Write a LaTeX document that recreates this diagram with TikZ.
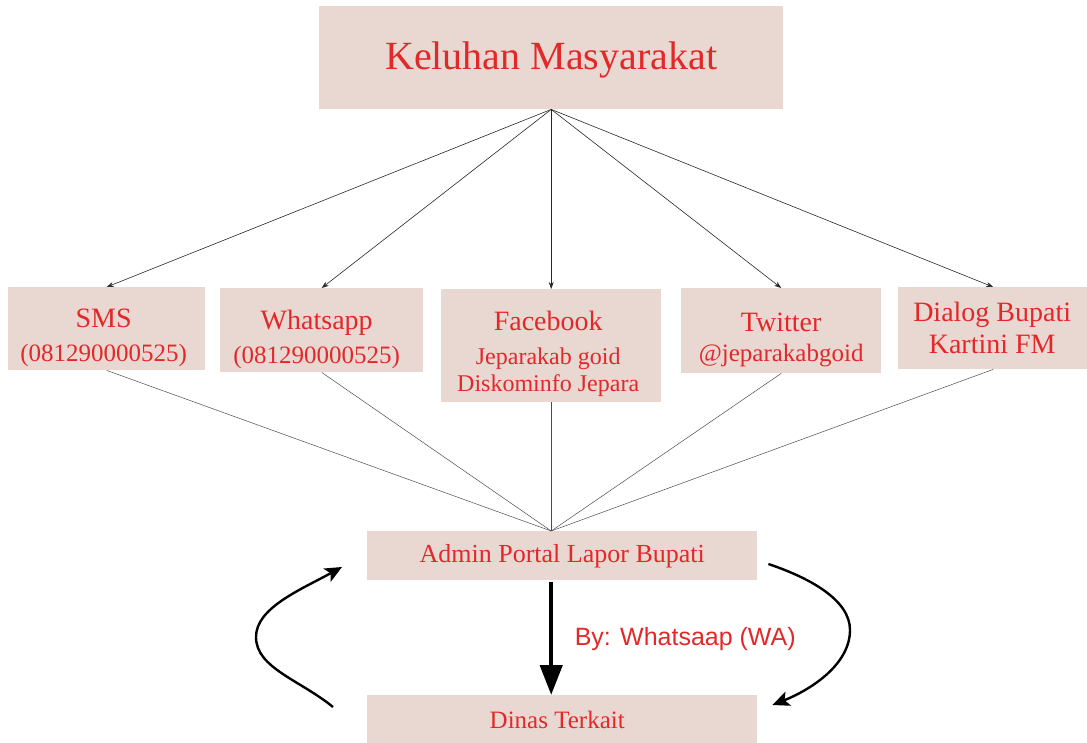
\documentclass[tikz,border=0pt]{standalone}
\usepackage{fontspec}
\setmainfont{Liberation Serif}
\newfontfamily\labelsans{Liberation Sans}
\usetikzlibrary{arrows.meta,calc}
\definecolor{boxfill}{RGB}{233,215,210}
\definecolor{boxtext}{RGB}{226,40,40}
\begin{document}
\begin{tikzpicture}[x=1pt,y=-1pt,
  box/.style={fill=boxfill,draw=none,inner sep=0pt,anchor=north west},
  txt/.style={text=boxtext,align=center,inner sep=0pt},
  feedline/.style={draw=black!85,line width=0.6pt,-{Stealth[length=7pt,width=5pt]}},
  joinline/.style={draw=black!70,line width=0.5pt},
  bigarrow/.style={draw=black,line width=4.5pt,-{Triangle[length=30pt,width=22pt]}},
  looparrow/.style={draw=black,line width=2.4pt,-{Stealth[length=17pt,width=15pt,inset=4pt]}}]
\useasboundingbox (0,0) rectangle (1087,742);
% boxes
\node[box,minimum width=464,minimum height=103] (kel) at (319,6) {};
\node[box,minimum width=197,minimum height=83] (sms) at (8,287) {};
\node[box,minimum width=203,minimum height=84] (wa) at (220,288) {};
\node[box,minimum width=220,minimum height=113] (fb) at (441,289) {};
\node[box,minimum width=200,minimum height=85] (tw) at (681,288) {};
\node[box,minimum width=190,minimum height=82] (dia) at (898,287) {};
\node[box,minimum width=390,minimum height=49] (adm) at (367,531) {};
\node[box,minimum width=390,minimum height=50] (din) at (367,695) {};
% texts
\node[txt,font=\fontsize{40}{48}\selectfont] (kelT) at ([shift={(0,2)}]kel.center) {Keluhan Masyarakat};
\node[txt,font=\fontsize{28}{34}\selectfont] (smsT) at ([shift={(-3,9)}]sms.center) {SMS\\{\fontsize{25}{34}\selectfont(081290000525)}};
\node[txt,font=\fontsize{28}{34}\selectfont] (waT) at ([shift={(-5,9)}]wa.center) {Whatsapp\\{\fontsize{25}{34}\selectfont(081290000525)}};
\node[txt,font=\fontsize{28}{34}\selectfont] (fbT) at ([shift={(-3,8)}]fb.center) {Facebook\\{\fontsize{24}{27}\selectfont Jeparakab goid}\\[-7pt]{\fontsize{24}{27}\selectfont Diskominfo Jepara}};
\node[txt,font=\fontsize{28}{30}\selectfont] (twT) at ([shift={(0,9)}]tw.center) {Twitter\\{\fontsize{25}{30}\selectfont @jeparakabgoid}};
\node[txt,font=\fontsize{28}{32}\selectfont] (diaT) at ([shift={(-1,0)}]dia.center) {Dialog Bupati\\Kartini FM};
\node[txt,font=\fontsize{26}{30}\selectfont] (admT) at ([shift={(0,1)}]adm.center) {Admin Portal Lapor Bupati};
\node[txt,font=\fontsize{25}{30}\selectfont] (dinT) at ([shift={(-5,0)}]din.center) {Dinas Terkait};
% connectors
\foreach \t in {sms,wa,fb,tw,dia}{
  \draw[feedline] (kel.south) -- (\t.north);
  \draw[joinline] (\t.south) -- (adm.north -| kel.south);
}
\draw[bigarrow] ([yshift=-2pt]adm.south -| kel.south) -- (din.north -| kel.south)
  node[midway,right=18pt,text=boxtext,font=\labelsans\fontsize{25}{30}\selectfont] (by) {By: Whatsaap (WA)};
\coordinate (leftmid) at (256,637);
\coordinate (rightmid) at (850,630);
\draw[looparrow] ([shift={(-34,12)}]din.north west) .. controls (300,680) and (256,668) .. (leftmid)
  .. controls (256,608) and (300,590) .. ([shift={(-25,36)}]adm.north west);
\draw[looparrow] ([shift={(11,33)}]adm.north east) .. controls (810,578) and (850,600) .. (rightmid)
  .. controls (850,665) and (810,690) .. ([shift={(15,10)}]din.north east);
\end{tikzpicture}
\end{document}
